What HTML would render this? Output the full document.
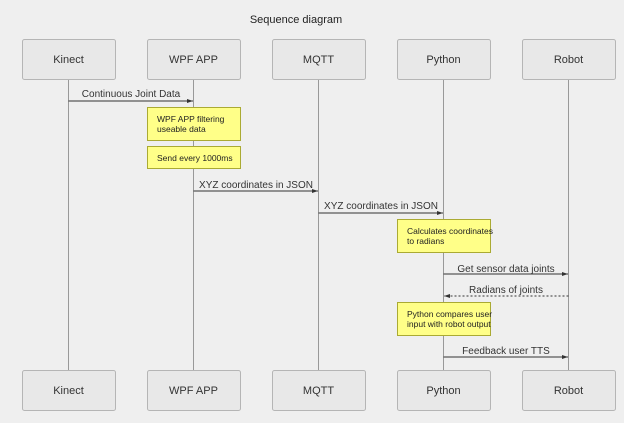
<!DOCTYPE html>
<html><head><meta charset="utf-8"><style>
html,body{margin:0;padding:0;background:#efefef;}
svg{display:block;font-family:"Liberation Sans",sans-serif;}
</style></head><body>
<svg width="624" height="423" viewBox="0 0 624 423" xmlns="http://www.w3.org/2000/svg">
<rect width="624" height="423" fill="#efefef"/>
<defs><marker id="a" markerWidth="6" markerHeight="4" refX="6" refY="2" orient="auto" markerUnits="userSpaceOnUse"><path d="M0,0L6,2L0,4z" fill="#333"/></marker></defs>
<text x="296" y="23" font-size="11" text-anchor="middle" fill="#222">Sequence diagram</text>
<g stroke="#999" stroke-width="1">
<line x1="68.5" y1="79" x2="68.5" y2="370"/><line x1="193.5" y1="79" x2="193.5" y2="370"/><line x1="318.5" y1="79" x2="318.5" y2="370"/><line x1="443.5" y1="79" x2="443.5" y2="370"/><line x1="568.5" y1="79" x2="568.5" y2="370"/>
</g>
<g fill="#e8e8e8" stroke="#b5b5b5" stroke-width="1">
<rect x="22.5" y="39.5" width="93" height="40" rx="2"/><rect x="147.5" y="39.5" width="93" height="40" rx="2"/><rect x="272.5" y="39.5" width="93" height="40" rx="2"/><rect x="397.5" y="39.5" width="93" height="40" rx="2"/><rect x="522.5" y="39.5" width="93" height="40" rx="2"/>
<rect x="22.5" y="370.5" width="93" height="40" rx="2"/><rect x="147.5" y="370.5" width="93" height="40" rx="2"/><rect x="272.5" y="370.5" width="93" height="40" rx="2"/><rect x="397.5" y="370.5" width="93" height="40" rx="2"/><rect x="522.5" y="370.5" width="93" height="40" rx="2"/>
</g>
<g font-size="11" fill="#333" text-anchor="middle">
<text x="68.5" y="63">Kinect</text><text x="193.5" y="63">WPF APP</text><text x="318.5" y="63">MQTT</text><text x="443.5" y="63">Python</text><text x="568.5" y="63">Robot</text>
<text x="68.5" y="394">Kinect</text><text x="193.5" y="394">WPF APP</text><text x="318.5" y="394">MQTT</text><text x="443.5" y="394">Python</text><text x="568.5" y="394">Robot</text>
</g>
<g font-size="10" fill="#333" text-anchor="middle">
<text x="131" y="97">Continuous Joint Data</text>
<text x="256" y="188">XYZ coordinates in JSON</text>
<text x="381" y="209">XYZ coordinates in JSON</text>
<text x="506" y="272">Get sensor data joints</text>
<text x="506" y="293">Radians of joints</text>
<text x="506" y="354">Feedback user TTS</text>
</g>
<g stroke="#333" stroke-width="1">
<line x1="68.5" y1="101" x2="193" y2="101" marker-end="url(#a)"/>
<line x1="193.5" y1="191" x2="318" y2="191" marker-end="url(#a)"/>
<line x1="318.5" y1="213" x2="443" y2="213" marker-end="url(#a)"/>
<line x1="443.5" y1="274" x2="568" y2="274" marker-end="url(#a)"/>
<line x1="568.5" y1="296" x2="444" y2="296" stroke-dasharray="2,2" marker-end="url(#a)"/>
<line x1="443.5" y1="357" x2="568" y2="357" marker-end="url(#a)"/>
</g>
<g fill="#ffff88" stroke="#aaaa33" stroke-width="1">
<rect x="147.5" y="107.5" width="93" height="33"/>
<rect x="147.5" y="146.5" width="93" height="22"/>
<rect x="397.5" y="219.5" width="93" height="33"/>
<rect x="397.5" y="302.5" width="93" height="33"/>
</g>
<g font-size="8.5" fill="#222">
<text x="157" y="122">WPF APP filtering</text><text x="157" y="132">useable data</text>
<text x="157" y="161">Send every 1000ms</text>
<text x="407" y="234">Calculates coordinates</text><text x="407" y="244">to radians</text>
<text x="407" y="317">Python compares user</text><text x="407" y="327">input with robot output</text>
</g>
</svg>
</body></html>
